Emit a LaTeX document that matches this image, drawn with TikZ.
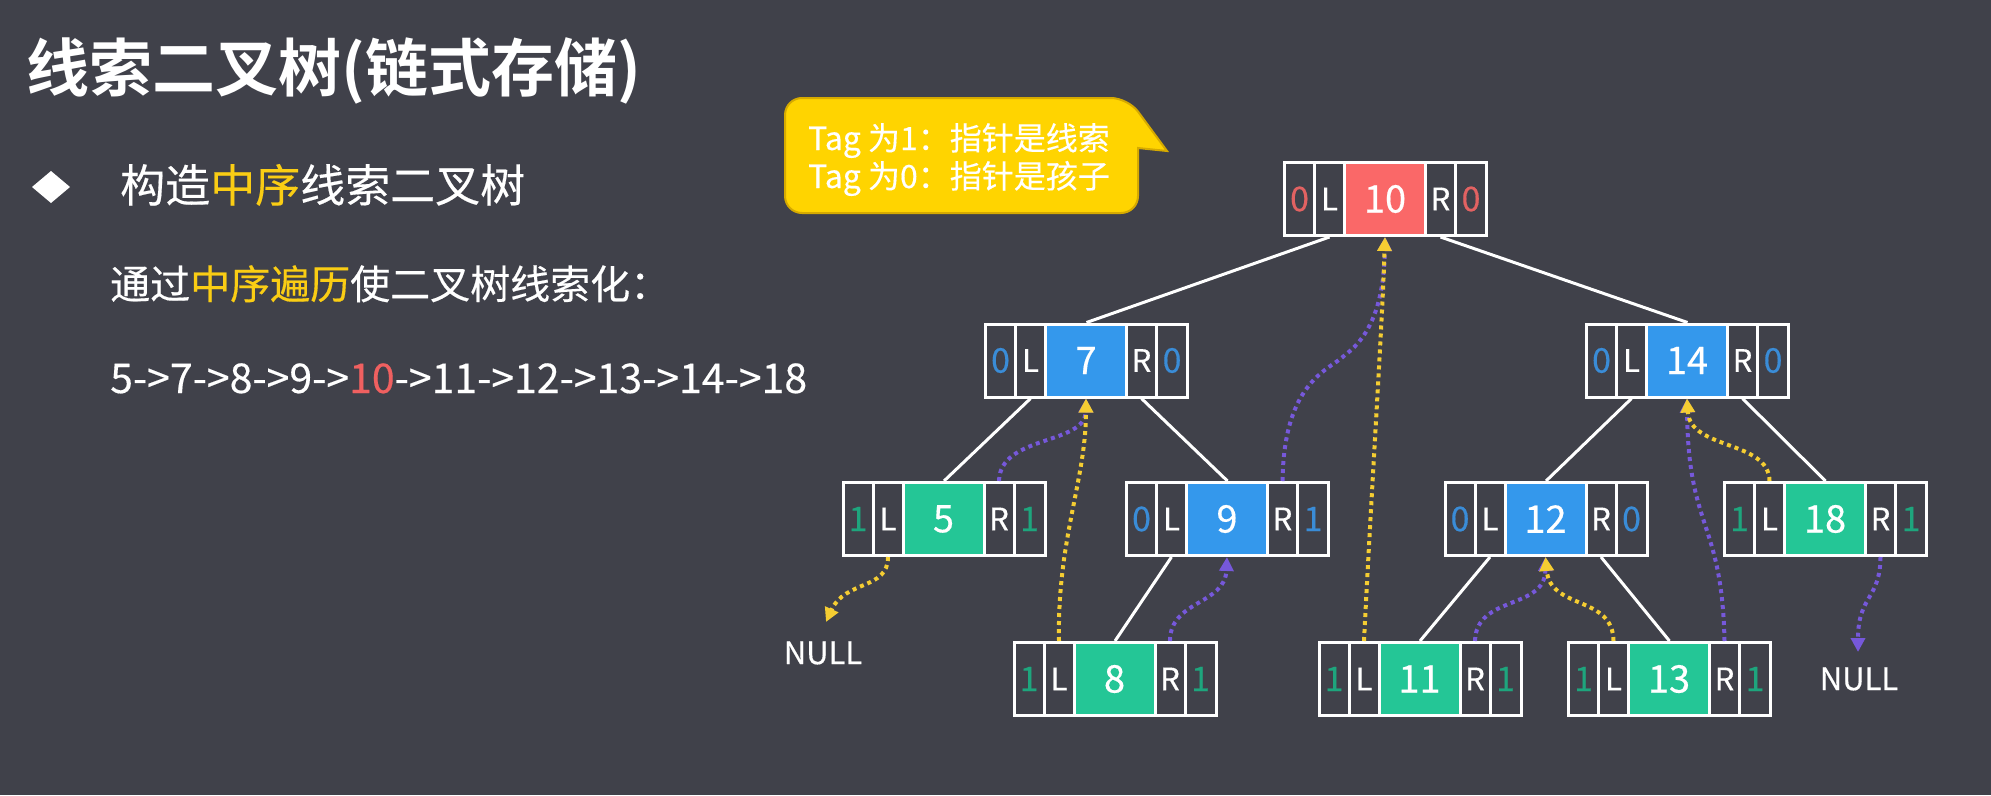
\documentclass[tikz,border=0pt]{standalone}
\usepackage{fontspec}
\setmainfont{Noto Sans CJK SC}[FakeBold=0.35]
\newfontfamily\titlefont{Noto Sans CJK SC Bold}
\usetikzlibrary{calc,arrows.meta}
\definecolor{bgc}{RGB}{64,65,74}
\definecolor{redv}{RGB}{250,104,104}
\definecolor{redt}{RGB}{226,98,98}
\definecolor{bluev}{RGB}{52,152,236}
\definecolor{bluet}{RGB}{58,140,215}
\definecolor{greenv}{RGB}{36,198,150}
\definecolor{greent}{RGB}{30,165,125}
\definecolor{yel}{RGB}{255,212,0}
\definecolor{callb}{RGB}{214,170,0}
\definecolor{hl}{RGB}{250,205,20}
\definecolor{seqred}{RGB}{240,96,96}
\definecolor{ythr}{RGB}{245,205,50}
\definecolor{pthr}{RGB}{118,88,218}
\tikzset{
 tbox/.style={rectangle,fill=white,minimum width=205pt,minimum height=76pt,inner sep=0pt,outer sep=0pt},
 cell/.style={fill=bgc},
 tagtxt/.style={inner sep=0pt,font=\fontsize{34}{34}\selectfont},
 lrtxt/.style={inner sep=0pt,text=white,font=\fontsize{31}{31}\selectfont},
 valtxt/.style={inner sep=0pt,text=white,font=\fontsize{38}{38}\selectfont},
 edge/.style={draw=white,line width=3pt},
 ythread/.style={draw=ythr,line width=4pt,dash pattern=on 4pt off 4pt,-{Triangle[length=14pt,width=14pt]}},
 pthread/.style={draw=pthr,line width=4pt,dash pattern=on 4pt off 4pt,-{Triangle[length=14pt,width=14pt]}},
 nulltxt/.style={text=white,inner sep=0pt,font=\fontsize{31}{31}\selectfont},
 plain/.style={inner sep=0pt,anchor=base west,text=white}
}
\newcommand\tnode[8]{%
 \node[tbox] (#1) at (#2,#3) {};
 \fill[cell] ($(#1.north west)+(3,3)$) rectangle ($(#1.north west)+(30,73)$);
 \fill[cell] ($(#1.north west)+(33,3)$) rectangle ($(#1.north west)+(60,73)$);
 \fill[#5] ($(#1.north west)+(63,3)$) rectangle ($(#1.north west)+(141,73)$);
 \fill[cell] ($(#1.north west)+(144,3)$) rectangle ($(#1.north west)+(171,73)$);
 \fill[cell] ($(#1.north west)+(174,3)$) rectangle ($(#1.north west)+(202,73)$);
 \node[tagtxt,text=#6] (#1-ta) at ($(#1.north west)+(16.5,38)$) {#7};
 \node[lrtxt] (#1-l) at ($(#1.north west)+(46.5,38)$) {L};
 \node[valtxt] (#1-v) at ($(#1.north west)+(102,38)$) {#4};
 \node[lrtxt] (#1-r) at ($(#1.north west)+(157.5,38)$) {R};
 \node[tagtxt,text=#6] (#1-tb) at ($(#1.north west)+(188,38)$) {#8};
 \coordinate (#1-Lt) at ($(#1.north west)+(46.5,0)$);
 \coordinate (#1-Lb) at ($(#1.south west)+(46.5,0)$);
 \coordinate (#1-Rt) at ($(#1.north west)+(157.5,0)$);
 \coordinate (#1-Rb) at ($(#1.south west)+(157.5,0)$);
 \coordinate (#1-Vb) at ($(#1.south west)+(102,0)$);
}
\begin{document}
\begin{tikzpicture}[x=1pt,y=-1pt]
\fill[bgc] (0,0) rectangle (1991,795);
\useasboundingbox (0,0) rectangle (1991,795);
% left texts
\node[plain,font=\titlefont\fontsize{63}{63}\selectfont] (title) at (26,91) {线索二叉树(链式存储)};
\fill[white] (32,187) -- (51,171) -- (70,187) -- (51,203) -- cycle;
\node[plain,font=\fontsize{45}{45}\selectfont] (sub1) at (120,202) {构造\textcolor{hl}{中序}线索二叉树};
\node[plain,font=\fontsize{40}{40}\selectfont] (sub2) at (110,299) {通过\textcolor{hl}{中序遍历}使二叉树线索化：};
\node[plain,font=\fontsize{41}{41}\selectfont] (seq) at (110,393) {5->7->8->9->\textcolor{seqred}{10}->11->12->13->14->18};
% callout
\filldraw[fill=yel,draw=callb,line width=2pt] (1138,148) [rounded corners=17pt] -- (1138,213) -- (785,213) -- (785,98) -- (1128,98) [sharp corners] -- (1167,151) -- cycle;
\node[plain,font=\fontsize{32}{32}\selectfont] (tag1) at (808,150) {Tag 为1：指针是线索};
\node[plain,font=\fontsize{32}{32}\selectfont] (tag0) at (808,188) {Tag 为0：指针是孩子};
% tree nodes
\tnode{n10}{1385.5}{199}{10}{redv}{redt}{0}{0}
\tnode{n7}{1086.5}{360.5}{7}{bluev}{bluet}{0}{0}
\tnode{n14}{1687.5}{360.5}{14}{bluev}{bluet}{0}{0}
\tnode{n5}{944}{519}{5}{greenv}{greent}{1}{1}
\tnode{n9}{1227.5}{519}{9}{bluev}{bluet}{0}{1}
\tnode{n12}{1546}{519}{12}{bluev}{bluet}{0}{0}
\tnode{n18}{1825.5}{519}{18}{greenv}{greent}{1}{1}
\tnode{n8}{1115}{679}{8}{greenv}{greent}{1}{1}
\tnode{n11}{1420}{679}{11}{greenv}{greent}{1}{1}
\tnode{n13}{1669.5}{679}{13}{greenv}{greent}{1}{1}
\node[nulltxt] (nullL) at (823,653) {NULL};
\node[nulltxt] (nullR) at (1859,679) {NULL};
\coordinate (tL) at (826,622);
\coordinate (tR) at (1858,652);
% tree edges
\draw[edge] (n10-Lb) -- (n7.north);
\draw[edge] (n10-Rb) -- (n14.north);
\draw[edge] (n7-Lb) -- (n5.north);
\draw[edge] (n7-Rb) -- (n9.north);
\draw[edge] (n9-Lb) -- (n8.north);
\draw[edge] (n14-Lb) -- (n12.north);
\draw[edge] (n14-Rb) -- (n18.north);
\draw[edge] (n12-Lb) -- (n11.north);
\draw[edge] (n12-Rb) -- (n13.north);
% right threads (purple)
\draw[pthread] (n5-Rt) .. controls (1000,435) and (1085,445) .. (n7-Vb);
\draw[pthread] (n9-Rt) .. controls (1284,380) and (1330,370) .. (1345,355) .. controls (1372,335) and (1384,300) .. (n10-Vb);
\draw[pthread] (n8-Rt) .. controls (1170,600) and (1225,605) .. (n9-Vb);
\draw[pthread] (n11-Rt) .. controls (1476,595) and (1545,610) .. (n12-Vb);
\draw[pthread] (n13-Rt) .. controls (1722,520) and (1688,530) .. (n14-Vb);
\draw[pthread] (n18-Rb) .. controls (1880,600) and (1858,595) .. (tR);
% left threads (yellow)
\draw[ythread] (n5-Lb) .. controls (888,590) and (845,580) .. (tL);
\draw[ythread] (n8-Lt) .. controls (1057,540) and (1086,480) .. (n7-Vb);
\draw[ythread] (n11-Lt) .. controls (1372,480) and (1382,330) .. (n10-Vb);
\draw[ythread] (n13-Lt) .. controls (1613,595) and (1550,610) .. (n12-Vb);
\draw[ythread] (n18-Lt) .. controls (1769,440) and (1690,450) .. (n14-Vb);
\end{tikzpicture}
\end{document}
